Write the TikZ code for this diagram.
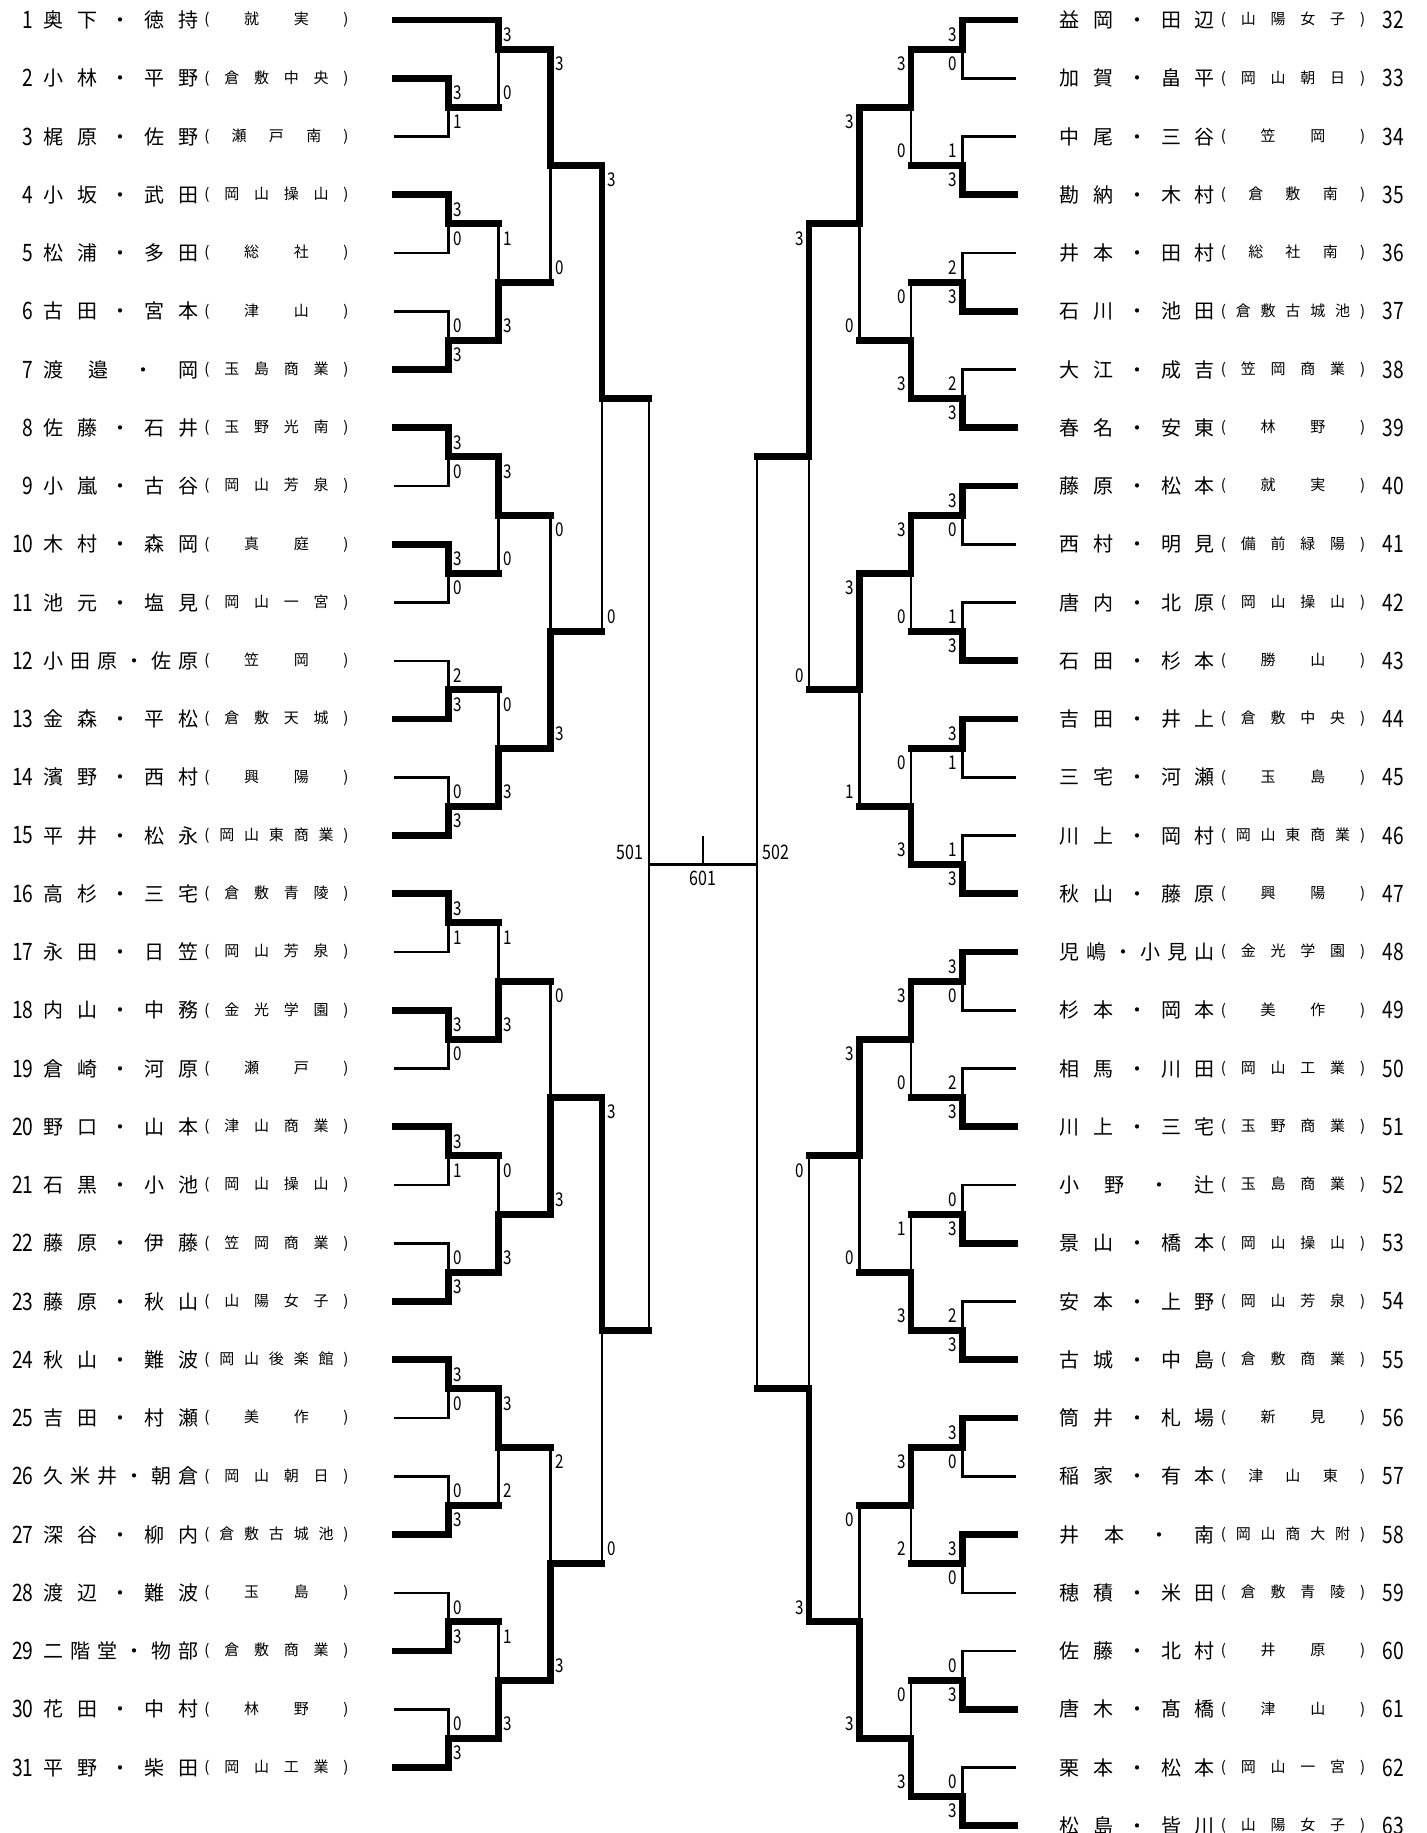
\documentclass[tikz,border=0pt]{standalone}
\usepackage{fontspec}
\setmainfont{Noto Sans CJK JP}
\newfontfamily\numfont[FakeStretch=0.8]{Noto Sans CJK JP}
\usepackage{tikz}

\pgfmathdeclarefunction{yb}{1}{\pgfmathparse{20+29.125*#1}}

\ExplSyntaxOn
\tl_new:N \l_bk_text_tl
\NewDocumentCommand\namebox{m}{
  \tl_set:Nx \l_bk_text_tl {#1}
  \hbox_to_wd:nn {77.5pt} { \tl_map_inline:Nn \l_bk_text_tl {##1\hfil} \unskip }
}
\NewDocumentCommand\schoolbox{m}{
  \tl_set:Nx \l_bk_text_tl {#1}
  (\hbox_to_wd:nn {67pt} { \hfil \tl_map_inline:Nn \l_bk_text_tl {##1\hfil} })
}
\ExplSyntaxOff

\newcounter{pt}
\newcommand{\score}[2]{\stepcounter{pt}\node[pscore,anchor=\sa] (pt\arabic{pt}) at #1 {#2};}

% first round: top boundary, top score, bottom score
\newcommand{\bfirst}[3]{%
  \pgfmathsetmacro\bm{#1+1}\pgfmathsetmacro\bl{#1+2}%
  \ifnum#2>#3 \def\tst{win}\def\bst{lose}\else\def\tst{lose}\def\bst{win}\fi
  \draw[\bst] (\xE,{yb(\bl)}) -| (\xA,{yb(\bm)});
  \draw[\tst] (\xE,{yb(#1)}) -| (\xA,{yb(\bm)});
  \draw[win] (\xA,{yb(\bm)}) -- (\xB,{yb(\bm)});
  \score{({\xA+5*\sd},{yb(#1+0.5)})}{#2}
  \score{({\xA+5*\sd},{yb(#1+1.5)})}{#3}
}

% later rounds: x, next x, top, bottom, out, top score, bottom score
\newcommand{\bmatch}[7]{%
  \ifnum#6>#7 \def\tst{win}\def\bst{lose}\else\def\tst{lose}\def\bst{win}\fi
  \draw[\bst] (#1,{yb(#5)}) -- (#1,{yb(#4)});
  \draw[\tst] (#1,{yb(#3)}) -- (#1,{yb(#5)});
  \draw[win] (#1,{yb(#5)}) -- (#2,{yb(#5)});
  \score{({#1+5*\sd},{yb(#3+0.5)})}{#6}
  \score{({#1+5*\sd},{yb(#4-0.5)})}{#7}
}

\begin{document}
\begin{tikzpicture}[x=0.5pt, y=-0.5pt, line cap=rect]
    \tikzstyle{win}=[line width=3.4pt]
    \tikzstyle{lose}=[line width=1.25pt]
    \tikzstyle{pname}=[inner sep=0pt, font=\fontsize{10pt}{10pt}\selectfont]
    \tikzstyle{pschool}=[inner sep=0pt, font=\fontsize{7.5pt}{7.5pt}\selectfont]
    \tikzstyle{pnum}=[inner sep=0pt, font=\numfont\fontsize{12pt}{12pt}\selectfont]
    \tikzstyle{pscore}=[inner sep=0pt, font=\numfont\fontsize{9.5pt}{9.5pt}\selectfont]
    \tikzstyle{plabel}=[inner sep=0pt, font=\numfont\fontsize{10pt}{10pt}\selectfont]

    \fill[white] (0,0) rectangle (1426,1833);
    \useasboundingbox (0,0) rectangle (1426,1833);

    \foreach \n/\nm/\sch in {1/奥下・徳持/就実, 2/小林・平野/倉敷中央, 3/梶原・佐野/瀬戸南,
        4/小坂・武田/岡山操山, 5/松浦・多田/総社, 6/古田・宮本/津山, 7/渡邉・岡/玉島商業,
        8/佐藤・石井/玉野光南, 9/小嵐・古谷/岡山芳泉, 10/木村・森岡/真庭, 11/池元・塩見/岡山一宮,
        12/小田原・佐原/笠岡, 13/金森・平松/倉敷天城, 14/濱野・西村/興陽, 15/平井・松永/岡山東商業,
        16/高杉・三宅/倉敷青陵, 17/永田・日笠/岡山芳泉, 18/内山・中務/金光学園, 19/倉崎・河原/瀬戸,
        20/野口・山本/津山商業, 21/石黒・小池/岡山操山, 22/藤原・伊藤/笠岡商業, 23/藤原・秋山/山陽女子,
        24/秋山・難波/岡山後楽館, 25/吉田・村瀬/美作, 26/久米井・朝倉/岡山朝日, 27/深谷・柳内/倉敷古城池,
        28/渡辺・難波/玉島, 29/二階堂・物部/倉敷商業, 30/花田・中村/林野, 31/平野・柴田/岡山工業}{
        \pgfmathsetmacro\y{yb(2*(\n-1))}
        \node[pnum, anchor=east] (no\n) at (34,\y) {\n};
        \node[pname, anchor=west] (nm\n) at (43,\y) {\namebox{\nm}};
        \node[pschool] (sh\n) at (276.5,\y) {\schoolbox{\sch}};
    }

    \foreach \n/\nm/\sch in {32/益岡・田辺/山陽女子, 33/加賀・畠平/岡山朝日, 34/中尾・三谷/笠岡,
        35/勘納・木村/倉敷南, 36/井本・田村/総社南, 37/石川・池田/倉敷古城池, 38/大江・成吉/笠岡商業,
        39/春名・安東/林野, 40/藤原・松本/就実, 41/西村・明見/備前緑陽, 42/唐内・北原/岡山操山,
        43/石田・杉本/勝山, 44/吉田・井上/倉敷中央, 45/三宅・河瀬/玉島, 46/川上・岡村/岡山東商業,
        47/秋山・藤原/興陽, 48/児嶋・小見山/金光学園, 49/杉本・岡本/美作, 50/相馬・川田/岡山工業,
        51/川上・三宅/玉野商業, 52/小野・辻/玉島商業, 53/景山・橋本/岡山操山, 54/安本・上野/岡山芳泉,
        55/古城・中島/倉敷商業, 56/筒井・札場/新見, 57/稲家・有本/津山東, 58/井本・南/岡山商大附,
        59/穂積・米田/倉敷青陵, 60/佐藤・北村/井原, 61/唐木・髙橋/津山, 62/栗本・松本/岡山一宮,
        63/松島・皆川/山陽女子}{
        \pgfmathsetmacro\y{yb(2*(\n-32))}
        \node[pname, anchor=west] (nm\n) at (1059.5,\y) {\namebox{\nm}};
        \node[pschool] (sh\n) at (1293,\y) {\schoolbox{\sch}};
        \node[pnum, anchor=west] (no\n) at (1382,\y) {\n};
    }

    % left half
    \begin{scope}
        \def\xE{395}\def\xA{448.5}\def\xB{498.5}\def\xC{550.5}\def\xD{602}\def\xS{649}
        \def\sd{1}\def\sa{west}
        \draw[win] (\xE,{yb(0)}) -- (\xB,{yb(0)});
        \foreach \b/\p/\q in {2/3/1, 6/3/0, 10/0/3, 14/3/0, 18/3/0, 22/2/3, 26/0/3, 30/3/1,
            34/3/0, 38/3/1, 42/0/3, 46/3/0, 50/0/3, 54/0/3, 58/0/3}{\bfirst{\b}{\p}{\q}}
        \foreach \t/\u/\o/\p/\q in {0/3/1/3/0, 7/11/9/1/3, 15/19/17/3/0, 23/27/25/0/3,
            31/35/33/1/3, 39/43/41/0/3, 47/51/49/3/2, 55/59/57/1/3}{\bmatch{\xB}{\xC}{\t}{\u}{\o}{\p}{\q}}
        \foreach \t/\u/\o/\p/\q in {1/9/5/3/0, 17/25/21/0/3, 33/41/37/0/3, 49/57/53/2/3}{\bmatch{\xC}{\xD}{\t}{\u}{\o}{\p}{\q}}
        \foreach \t/\u/\o/\p/\q in {5/21/13/3/0, 37/53/45/3/0}{\bmatch{\xD}{\xS}{\t}{\u}{\o}{\p}{\q}}
    \end{scope}

    % right half
    \begin{scope}
        \def\xE{1015}\def\xA{962.5}\def\xB{911}\def\xC{859.5}\def\xD{809}\def\xS{757}
        \def\sd{-1}\def\sa{east}
        \foreach \b/\p/\q in {0/3/0, 4/1/3, 8/2/3, 12/2/3, 16/3/0, 20/1/3, 24/3/1, 28/1/3,
            32/3/0, 36/2/3, 40/0/3, 44/2/3, 48/3/0, 52/3/0, 56/0/3, 60/0/3}{\bfirst{\b}{\p}{\q}}
        \foreach \t/\u/\o/\p/\q in {1/5/3/3/0, 9/13/11/0/3, 17/21/19/3/0, 25/29/27/0/3,
            33/37/35/3/0, 41/45/43/1/3, 49/53/51/3/2, 57/61/59/0/3}{\bmatch{\xB}{\xC}{\t}{\u}{\o}{\p}{\q}}
        \foreach \t/\u/\o/\p/\q in {3/11/7/3/0, 19/27/23/3/1, 35/43/39/3/0, 51/59/55/0/3}{\bmatch{\xC}{\xD}{\t}{\u}{\o}{\p}{\q}}
        \foreach \t/\u/\o/\p/\q in {7/23/15/3/0, 39/55/47/0/3}{\bmatch{\xD}{\xS}{\t}{\u}{\o}{\p}{\q}}
    \end{scope}

    % semifinals and final
    \coordinate (sfl) at (649,{yb(29)});
    \coordinate (sfr) at (757,{yb(29)});
    \coordinate (top) at (703,837);
    \draw[lose] (649,{yb(13)}) -- (649,{yb(45)});
    \draw[lose] (757,{yb(15)}) -- (757,{yb(47)});
    \draw[lose] (sfl) -- (sfr);
    \draw[line width=1.4pt] (top) -- (703,{yb(29)});
    \node[plabel, anchor=east] (m501) at (644,852) {501};
    \node[plabel, anchor=west] (m502) at (762,852) {502};
    \node[plabel] (m601) at (703,878) {601};
\end{tikzpicture}
\end{document}
